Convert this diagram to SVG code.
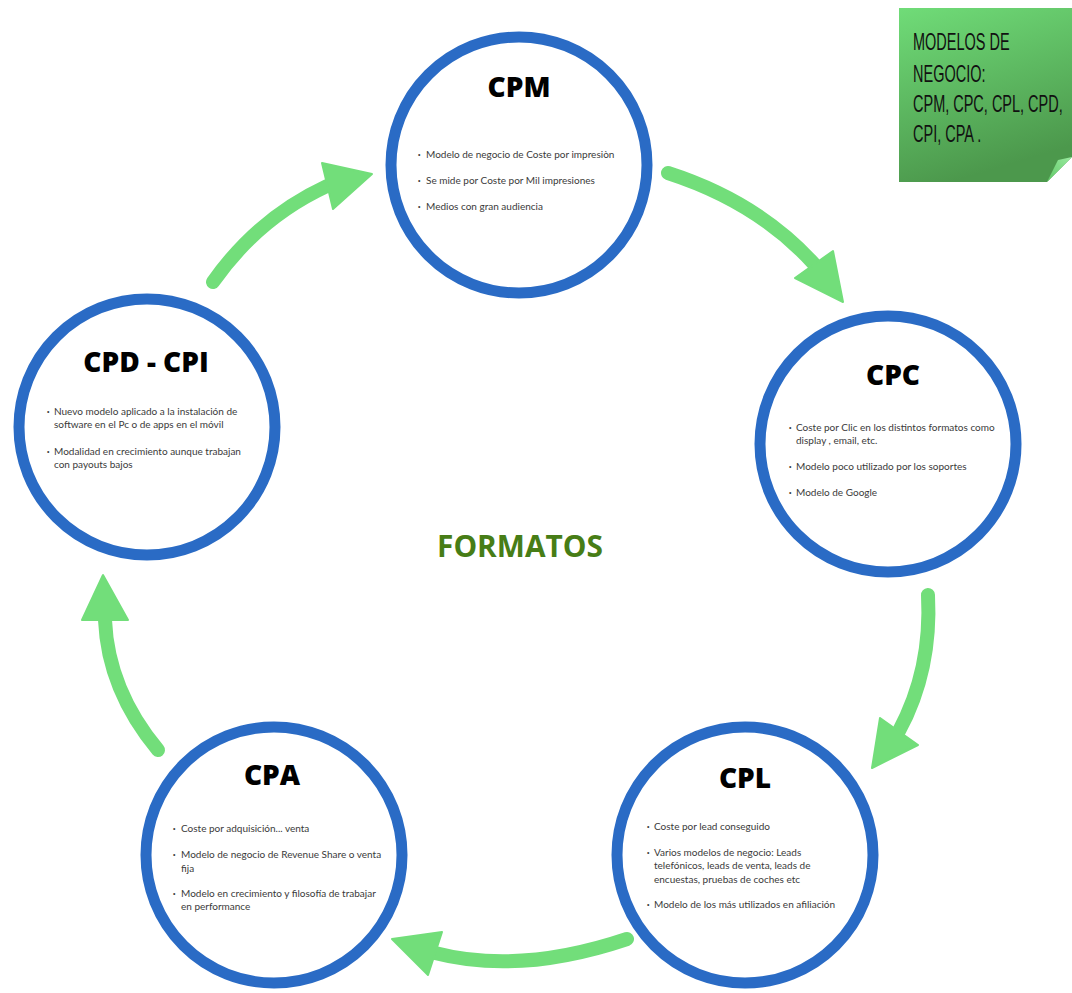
<svg xmlns="http://www.w3.org/2000/svg" width="1072" height="993" viewBox="0 0 1072 993">
<style>
.ring{fill:#fff;stroke:#2a6bc5;stroke-width:11}
.title{font-family:"Open Sans","Liberation Sans",sans-serif;font-weight:800;font-size:28px;fill:#000;text-anchor:middle}
.body{font-family:Lato,"Noto Sans","Liberation Sans",sans-serif;font-size:10px;fill:#3a3a3a}
.dot{font-family:"Liberation Sans",sans-serif;font-size:7px;fill:#3a3a3a}
.shaft{fill:none;stroke:#72de7a;stroke-width:14;stroke-linecap:round}
.head{fill:#72de7a;stroke:#72de7a;stroke-width:2;stroke-linejoin:round}
.note{font-family:"Liberation Sans",Arial,sans-serif;font-size:23px;fill:#111}
</style>
<defs>
<linearGradient id="ng" x1="0" y1="0" x2="0.3" y2="1">
<stop offset="0" stop-color="#70dc78"/>
<stop offset="1" stop-color="#4c984c"/>
</linearGradient>
<linearGradient id="fg" x1="0" y1="1" x2="1" y2="0">
<stop offset="0" stop-color="#5fc865"/>
<stop offset="1" stop-color="#9aeaa0"/>
</linearGradient>
</defs>
<rect width="1072" height="993" fill="#fff"/>

<g id="connectors">
<path class="shaft" d="M213,282 Q258,218 327,186"/>
<polygon class="head" points="322,163 372,174 333,209"/>
<path class="shaft" d="M668,173 Q758,202 814,264"/>
<polygon class="head" points="795,278 833,251 843,302"/>
<path class="shaft" d="M928,595 Q932,670 899,731"/>
<polygon class="head" points="880,718 918,745 872,768"/>
<path class="shaft" d="M627,939 Q520,975 435,953"/>
<polygon class="head" points="442,932 428,975 392,939"/>
<path class="shaft" d="M158,750 Q108,690 105,620"/>
<polygon class="head" points="82,620 128,620 103,575"/>
</g>

<g id="cpm">
<circle class="ring" cx="519" cy="165" r="128"/>
<text class="title" x="519" y="97">CPM</text>
<text class="dot" x="418" y="157">•</text><text class="body" x="426" y="158">Modelo de negocio de Coste por impresiòn</text>
<text class="dot" x="418" y="183">•</text><text class="body" x="426" y="184">Se mide por Coste por Mil impresiones</text>
<text class="dot" x="418" y="209">•</text><text class="body" x="426" y="210">Medios con gran audiencia</text>
</g>

<g id="cpc">
<circle class="ring" cx="888" cy="444" r="128"/>
<text class="title" x="893" y="385">CPC</text>
<text class="dot" x="789" y="430">•</text><text class="body" x="796" y="431">Coste por Clic en los distintos formatos como</text>
<text class="body" x="796" y="444">display , email, etc.</text>
<text class="dot" x="789" y="469">•</text><text class="body" x="796" y="470">Modelo poco utilizado por los soportes</text>
<text class="dot" x="789" y="495">•</text><text class="body" x="796" y="496">Modelo de Google</text>
</g>

<g id="cpl">
<circle class="ring" cx="745" cy="855" r="128"/>
<text class="title" x="745" y="788">CPL</text>
<text class="dot" x="647" y="829">•</text><text class="body" x="654" y="830">Coste por lead conseguido</text>
<text class="dot" x="647" y="855">•</text><text class="body" x="654" y="856">Varios modelos de negocio: Leads</text>
<text class="body" x="654" y="869">telefónicos, leads de venta, leads de</text>
<text class="body" x="654" y="883">encuestas, pruebas de coches etc</text>
<text class="dot" x="647" y="907">•</text><text class="body" x="654" y="908">Modelo de los más utilizados en afiliación</text>
</g>

<g id="cpa">
<circle class="ring" cx="274" cy="855" r="128"/>
<text class="title" x="272" y="785">CPA</text>
<text class="dot" x="173" y="831">•</text><text class="body" x="181" y="832">Coste por adquisición... venta</text>
<text class="dot" x="173" y="857">•</text><text class="body" x="181" y="858">Modelo de negocio de Revenue Share o venta</text>
<text class="body" x="181" y="872">fija</text>
<text class="dot" x="173" y="896">•</text><text class="body" x="181" y="897">Modelo en crecimiento y filosofía de trabajar</text>
<text class="body" x="181" y="910">en performance</text>
</g>

<g id="cpd-cpi">
<circle class="ring" cx="147" cy="427" r="128"/>
<text class="title" x="146" y="372">CPD - CPI</text>
<text class="dot" x="47" y="414">•</text><text class="body" x="54" y="415">Nuevo modelo aplicado a la instalación de</text>
<text class="body" x="54" y="428">software en el Pc o de apps en el móvil</text>
<text class="dot" x="47" y="454">•</text><text class="body" x="54" y="455">Modalidad en crecimiento aunque trabajan</text>
<text class="body" x="54" y="468">con payouts bajos</text>
</g>

<g id="formatos">
<text x="520" y="557" font-family="'Open Sans','Liberation Sans',sans-serif" font-weight="700" font-size="30" fill="#477d16" text-anchor="middle" textLength="166" lengthAdjust="spacingAndGlyphs">FORMATOS</text>
</g>

<g id="note">
<polygon points="899,8 1072,8 1072,157 1047,182 899,182" fill="url(#ng)"/>
<polygon points="1047,182 1072,157 1058,160" fill="url(#fg)"/>
<g transform="translate(913,0) scale(0.63,1)">
<text class="note" x="0" y="50">MODELOS DE</text>
<text class="note" x="0" y="82">NEGOCIO:</text>
<text class="note" x="0" y="112">CPM, CPC, CPL, CPD,</text>
<text class="note" x="0" y="142">CPI, CPA .</text>
</g>
</g>
</svg>
